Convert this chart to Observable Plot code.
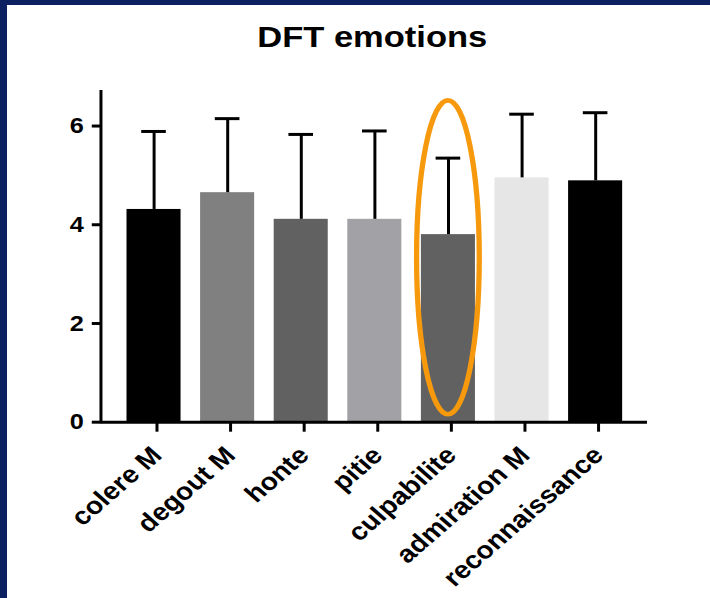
<!DOCTYPE html>
<html><head><meta charset="utf-8">
<script src="https://cdn.jsdelivr.net/npm/d3@7"></script>
<script src="https://cdn.jsdelivr.net/npm/@observablehq/plot@0.6"></script>
<style>
html,body{margin:0;padding:0;background:#fff;width:710px;height:598px;overflow:hidden;font-family:"Liberation Sans",Arial,sans-serif}
#wrap{position:absolute;left:0;top:0;width:617.4px;height:598px;transform:scaleX(1.15);transform-origin:0 0}
#chart{position:absolute;left:0;top:0}
#title{position:absolute;left:0;top:22px;width:647.4px;text-align:center;font-weight:bold;font-size:30px;line-height:30px;color:#000}
.bt{position:absolute;left:0;top:0;width:710px;height:5px;background:#0b2161}
.bl{position:absolute;left:0;top:0;width:7px;height:598px;background:#0b2161}
</style></head><body>
<div id="wrap"><div id="chart"></div><div id="title">DFT emotions</div></div>
<div class="bt"></div><div class="bl"></div>
<script>
const categories = ["colere M", "degout M", "honte", "pitie", "culpabilite", "admiration M", "reconnaissance"];
const means = [4.31, 4.65, 4.11, 4.11, 3.80, 4.95, 4.89];
const sds = [1.58, 1.50, 1.72, 1.79, 1.55, 1.29, 1.38];
const fills = ["#000000", "#808080", "#616161", "#a2a2a6", "#616161", "#e6e6e6", "#000000"];
const yTicks = [0, 2, 4, 6];
const yMax = 6.72;
const highlight = "culpabilite";
const highlightSpan = [0.15, 6.51];

const data = categories.map((c, i) => ({category: c, mean: means[i], sd: sds[i], fill: fills[i]}));

const chart = Plot.plot({
  width: 617.4, height: 598,
  marginTop: 90, marginBottom: 176.3, marginLeft: 87.8, marginRight: 54.8,
  style: {fontFamily: "'Liberation Sans', Arial, sans-serif", fontWeight: "bold", color: "#000", background: "transparent", overflow: "visible"},
  x: {domain: categories, paddingInner: 0.26, paddingOuter: 0.305, axis: null},
  y: {domain: [0, yMax], axis: null},
  color: {type: "identity"},
  marks: [
    Plot.barY(data, {x: "category", y: "mean", fill: "fill"}),
    Plot.ruleX(data, {x: "category", y1: "mean", y2: d => d.mean + d.sd, stroke: "#000", strokeWidth: 2.6}),
    Plot.tickY(data, {x: "category", y: d => d.mean + d.sd, stroke: "#000", strokeWidth: 3, insetLeft: 12.8, insetRight: 12.8}),
    Plot.ruleY([0], {stroke: "#000", strokeWidth: 3}),
    Plot.axisY({ticks: yTicks, tickSize: 8, tickPadding: 7.5, fontSize: 22, strokeWidth: 3, label: null, tickFormat: d => String(d)}),
    Plot.axisX({tickSize: 10, tickPadding: 19, dx: 2.5, tickRotate: -45, fontSize: 24.5, strokeWidth: 2.6, label: null})
  ]
});
document.getElementById("chart").appendChild(chart);

const xs = chart.scale("x"), ys = chart.scale("y");
const svg = d3.select(chart);
svg.append("line")
  .attr("x1", xs.range[0]).attr("x2", xs.range[0])
  .attr("y1", ys.apply(yMax)).attr("y2", ys.apply(0) + 1.5)
  .attr("stroke", "#000").attr("stroke-width", 2.6);
const cx = xs.apply(highlight) + xs.bandwidth / 2;
const yA = ys.apply(highlightSpan[0]), yB = ys.apply(highlightSpan[1]);
svg.append("ellipse")
  .attr("cx", cx).attr("cy", (yA + yB) / 2)
  .attr("rx", xs.bandwidth * 0.58).attr("ry", Math.abs(yA - yB) / 2)
  .attr("fill", "none").attr("stroke", "#f7990d").attr("stroke-width", 4.6);
</script>
</body></html>
